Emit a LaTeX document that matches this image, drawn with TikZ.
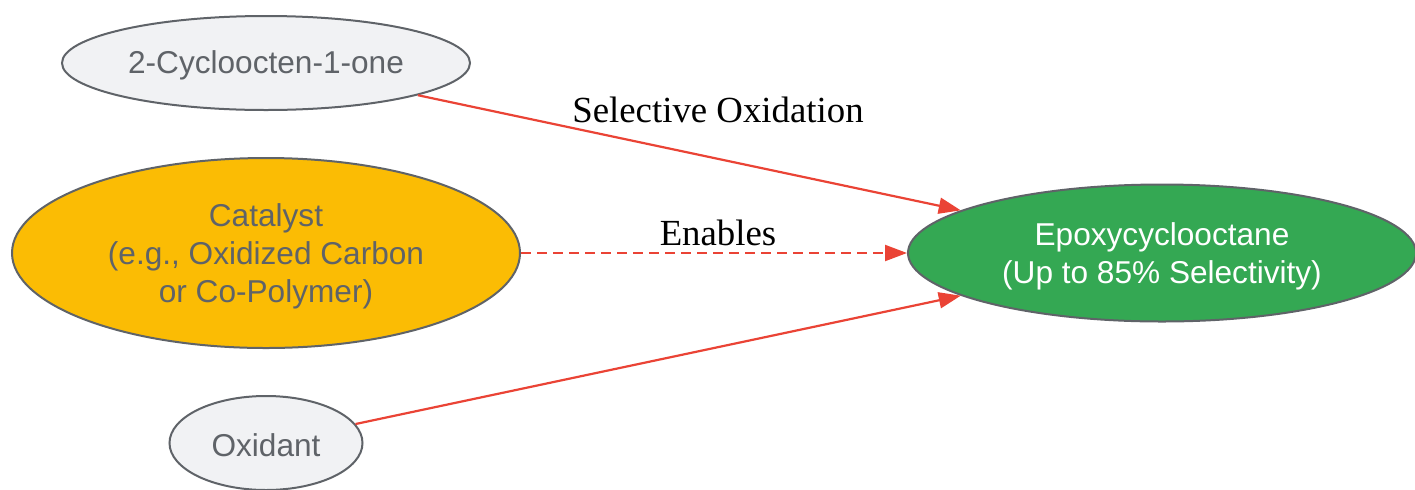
\documentclass[tikz,border=0pt]{standalone}
\usepackage{fontspec}
\setmainfont{Liberation Serif}
\setsansfont{Liberation Sans}
\usepackage{xcolor}
\usepackage{tikz}
\usetikzlibrary{positioning, shapes.geometric, arrows.meta}

\definecolor{nodegray}{HTML}{F1F2F4}
\definecolor{edgegray}{HTML}{5F6368}
\definecolor{catyellow}{HTML}{FBBC04}
\definecolor{prodgreen}{HTML}{34A853}
\definecolor{linkred}{HTML}{EA4335}

\tikzset{
  chem/.style={ellipse, draw=edgegray, line width=1pt, inner sep=0pt,
    align=center, font=\sffamily\fontsize{15.8}{19}\selectfont, text=edgegray},
  reagent/.style={chem, fill=nodegray, execute at begin node={\rule{0pt}{14pt}}},
  catalyst/.style={chem, fill=catyellow, text depth=-0.7pt},
  product/.style={chem, fill=prodgreen, text=white, text depth=-0.7pt},
  link/.style={linkred, line width=1.1pt, -{Triangle[length=11pt,width=8pt]}},
  lbl/.style={font=\rmfamily\fontsize{18.4}{22}\selectfont, inner sep=0pt}
}

\begin{document}
\begin{tikzpicture}[x=0.5pt, y=-0.5pt]
    \useasboundingbox (0,0) rectangle (1415,489);

    % Ausgangsstoffe
    \node[reagent, minimum width=204pt, minimum height=47pt] (cyclo) at (266,63) {2-Cycloocten-1-one};
    \node[catalyst, minimum width=254pt, minimum height=95pt] (cat) at (266,253) {Catalyst\\(e.g., Oxidized Carbon\\or Co-Polymer)};
    \node[reagent, minimum width=96.5pt, minimum height=47pt] (ox) at (266,443) {Oxidant};

    % Produkt
    \node[product, minimum width=254pt, minimum height=68.5pt] (epoxy) at (1162,253) {Epoxycyclooctane\\(Up to 85\% Selectivity)};

    % Pfeile
    \draw[link] (cyclo) -- (epoxy);
    \draw[link, dash pattern=on 5pt off 3pt] (cat) -- (epoxy);
    \draw[link] (ox) -- (epoxy);

    % Beschriftungen
    \node[lbl] (lblsel) at (718,110) {Selective Oxidation};
    \node[lbl] (lblen) at (718,233) {Enables};
\end{tikzpicture}
\end{document}
